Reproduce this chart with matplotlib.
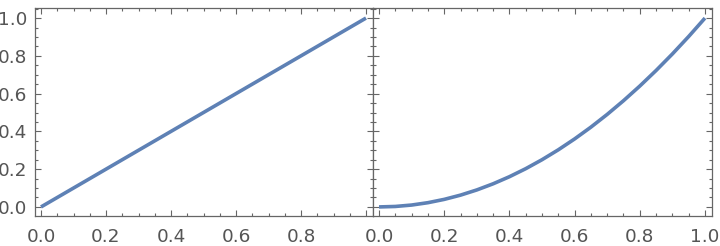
import numpy as np
import matplotlib.pyplot as plt
from matplotlib.ticker import MultipleLocator

# values
lin_x = [0.0, 1.0]
lin_y = [0.0, 1.0]
sq_x = [0.0, 0.05, 0.1, 0.15, 0.2, 0.25, 0.3, 0.35, 0.4, 0.45, 0.5,
        0.55, 0.6, 0.65, 0.7, 0.75, 0.8, 0.85, 0.9, 0.95, 1.0]
sq_y = [0.0, 0.0025, 0.01, 0.0225, 0.04, 0.0625, 0.09, 0.1225, 0.16, 0.2025, 0.25,
        0.3025, 0.36, 0.4225, 0.49, 0.5625, 0.64, 0.7225, 0.81, 0.9025, 1.0]
tick_vals = [0.0, 0.2, 0.4, 0.6, 0.8, 1.0]
tick_labels = ['0.0', '0.2', '0.4', '0.6', '0.8', '1.0']

line_color = '#5e81b5'
frame_color = '#666666'
text_color = '#555555'

fig = plt.figure(figsize=(7.2, 2.46), dpi=100)
ax1 = fig.add_axes([34.5 / 720, 1 - 216 / 246, 338 / 720, 208.5 / 246])
ax2 = fig.add_axes([372.5 / 720, 1 - 216 / 246, 339 / 720, 208.5 / 246])

for ax, xs, ys in [(ax1, lin_x, lin_y), (ax2, sq_x, sq_y)]:
    ax.plot(xs, ys, color=line_color, linewidth=2.6, solid_capstyle='butt')
    ax.set_xlim(-0.02, 1.02)
    ax.set_ylim(-0.048, 1.056)
    ax.xaxis.set_minor_locator(MultipleLocator(0.05))
    ax.yaxis.set_minor_locator(MultipleLocator(0.05))
    ax.tick_params(which='both', direction='in', top=True, right=True,
                   color=frame_color, width=0.8, labelcolor=text_color,
                   labelsize=13.3)
    ax.tick_params(which='major', length=4.5)
    ax.tick_params(which='minor', length=2.5)
    ax.tick_params(axis='x', pad=9)
    ax.tick_params(axis='y', pad=5)
    for s in ax.spines.values():
        s.set_color(frame_color)
        s.set_linewidth(0.9)
    ax.set_yticks(tick_vals)

# left panel: no label at x = 1.0, it would sit under the right panel's 0.0
ax1.set_xticks(tick_vals)
ax1.set_xticklabels(tick_labels[:-1] + [''])
ax1.set_yticklabels(tick_labels)
ax2.set_xticks(tick_vals)
ax2.set_xticklabels(tick_labels)
ax2.tick_params(axis='y', labelleft=False)

fig.savefig('out.png', dpi=100)
print('out.png')
